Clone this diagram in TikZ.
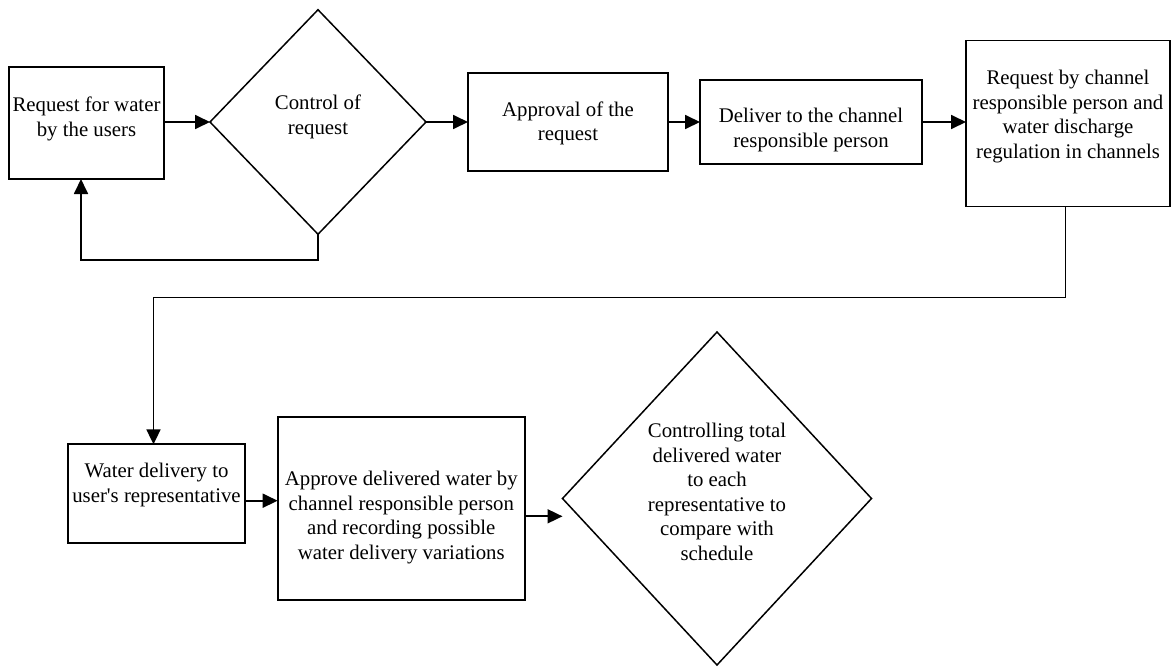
\documentclass[tikz,border=0pt]{standalone}
\usepackage{fontspec}
\setmainfont{Liberation Serif}
\usetikzlibrary{shapes.geometric,arrows.meta,calc}
\begin{document}
\begin{tikzpicture}[x=1pt,y=-1pt,
  box/.style={draw,line width=1.8pt,rectangle,inner sep=0pt,outer sep=0pt},
  dia/.style={draw,line width=1.5pt,diamond,inner sep=0pt,outer sep=0pt},
  txt/.style={align=center,inner sep=0pt,font=\fontsize{20.8}{24.5}\selectfont},
  arr/.style={line width=1.8pt,-{Triangle[length=15pt,width=14pt]}},
  ln/.style={line width=1.8pt}]
\useasboundingbox (0,0) rectangle (1172,667);
% shapes
\node[box,minimum width=155pt,minimum height=112pt] (B1) at (86.5,123) {};
\node[dia,minimum width=216pt,minimum height=224.5pt] (D1) at (318,122) {};
\node[box,minimum width=200pt,minimum height=98pt] (B2) at (568,122) {};
\node[box,minimum width=222pt,minimum height=84pt] (B3) at (811,122) {};
\node[box,minimum width=204pt,minimum height=166pt] (B4) at (1068,123.5) {};
\node[box,minimum width=177.6pt,minimum height=98.7pt] (B5) at (156.5,493.7) {};
\node[box,minimum width=247.3pt,minimum height=183.3pt] (B6) at (401.3,508.3) {};
\node[dia,minimum width=309pt,minimum height=333pt] (D2) at (717,498.5) {};
% texts
\node[txt] (T1) at (86.5,119) {Request for water\\by the users};
\node[txt] (TD1) at (318,117) {Control of\\request};
\node[txt] (T2) at (568,123.5) {Approval of the\\request};
\node[txt] (T3) at (811,130) {Deliver to the channel\\responsible person};
\node[txt] (T4) at (1068,116.5) {Request by channel\\responsible person and\\water discharge\\regulation in channels};
\node[txt] (T5) at (156.5,485) {Water delivery to\\user\textquotesingle s representative};
\node[txt] (T6) at (401.3,517.5) {Approve delivered water by\\channel responsible person\\and recording possible\\water delivery variations};
\node[txt] (TD2) at (717,492) {Controlling total\\delivered water\\to each\\representative to\\compare with\\schedule};
% connectors
\draw[arr] (B1.east |- D1.west) -- (D1.west);
\draw[arr] (D1.east) -- (B2.west |- D1.east);
\draw[arr] (B2.east) -- (B3.west);
\draw[arr] (B3.east) -- (B4.west |- B3.east);
\draw[arr] (D1.south) -- ++(0,26) -| ([xshift=-5.5pt]B1.south);
\draw[arr] ([xshift=-2.5pt]B4.south) -- ++(0,91) -| ([xshift=-3pt]B5.north);
\draw[arr] ([yshift=-7pt]B5.east) -- ([yshift=-7pt]B5.east -| B6.west);
\draw[arr] ([yshift=-8pt]B6.east) -- ([yshift=-8pt]B6.east -| D2.west);
\end{tikzpicture}
\end{document}
